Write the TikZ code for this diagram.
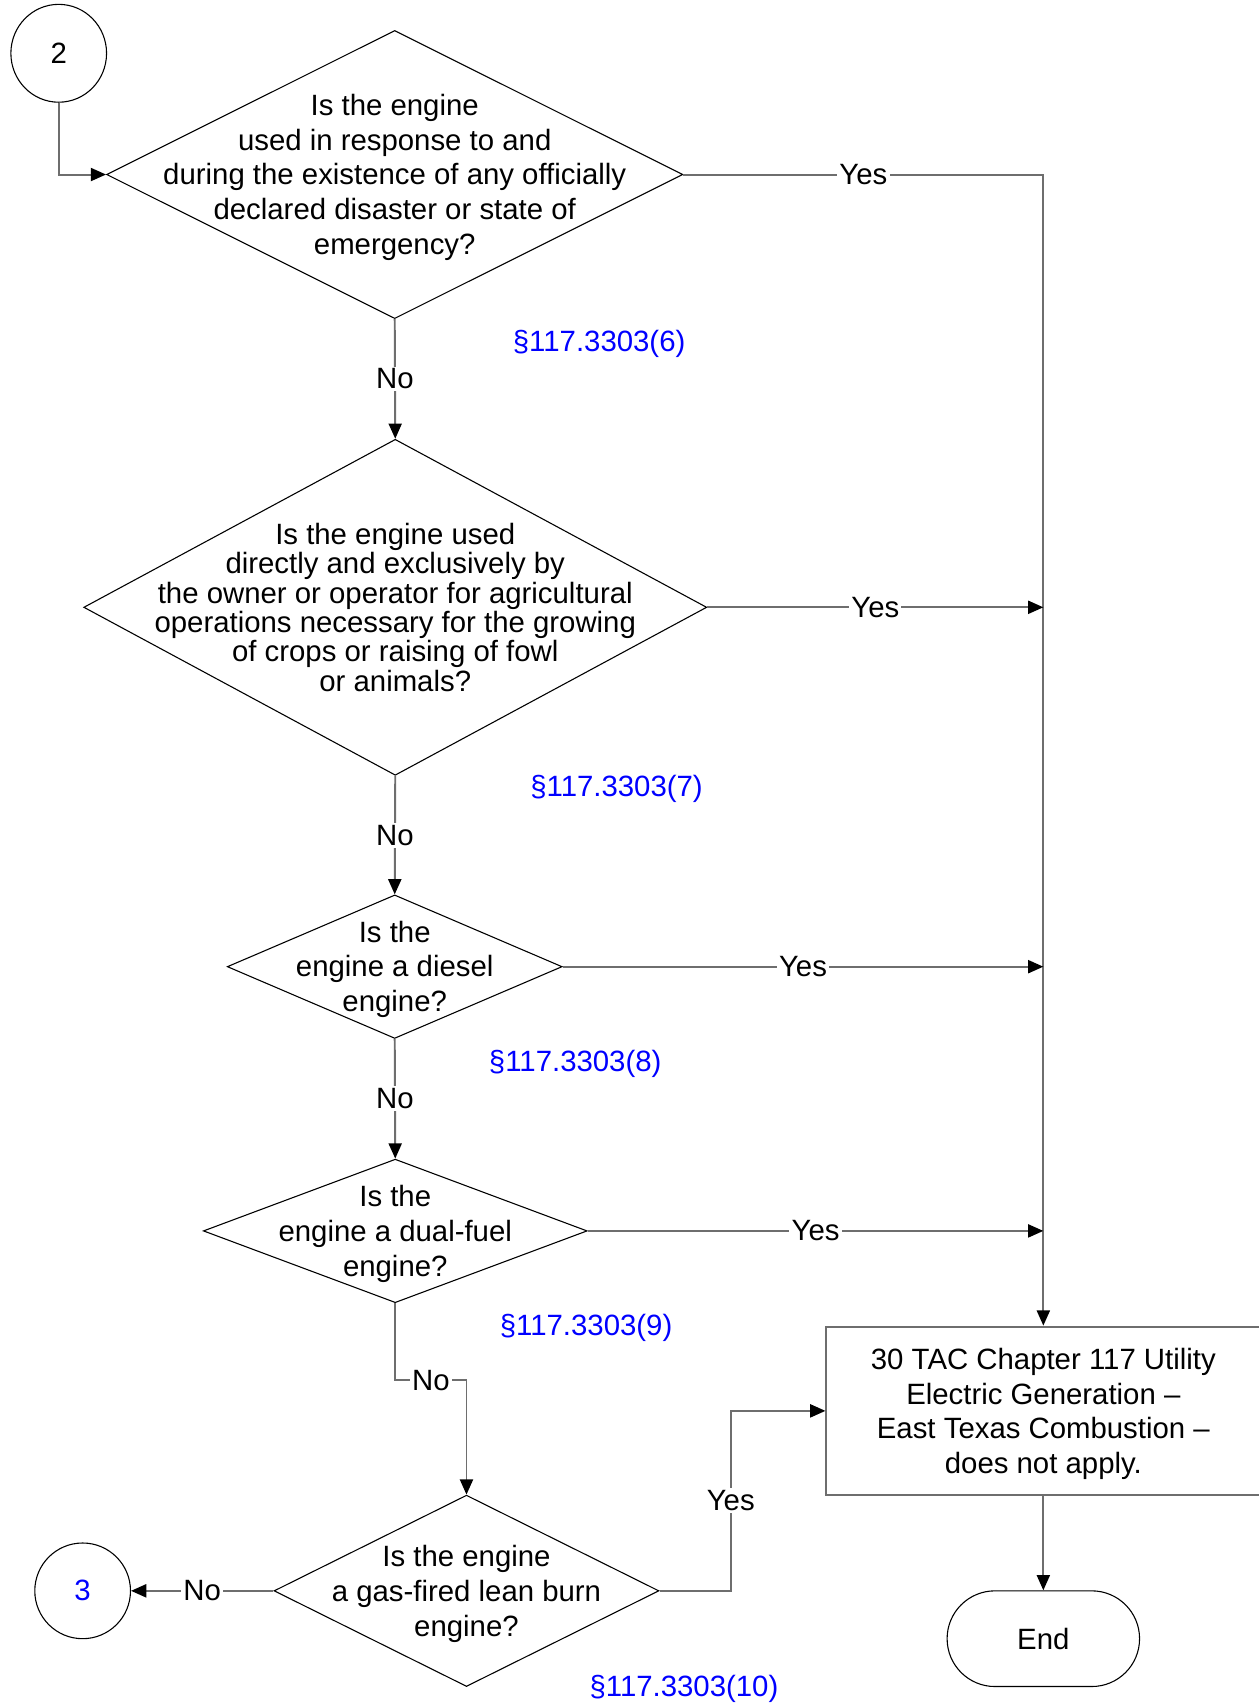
\documentclass[tikz,border=0pt]{standalone}
\usepackage{fontspec}
\setmainfont{Liberation Sans}
\usetikzlibrary{arrows.meta,shapes.geometric}
\definecolor{conngray}{RGB}{110,110,110}
\definecolor{refblue}{RGB}{0,0,255}
\begin{document}
\begin{tikzpicture}[x=0.5pt,y=-0.5pt,
  every node/.style={font=\fontsize{13.5pt}{16pt}\selectfont},
  dia/.style={draw=black, line width=0.5pt, diamond, inner sep=0pt},
  txt/.style={align=center, inner sep=0pt},
  conn/.style={draw=conngray, line width=0.9pt, -{Triangle[length=7pt,width=6pt,color=black]}},
  lbl/.style={fill=white, inner sep=1pt},
  sec/.style={text=refblue, inner sep=0pt},
  conncirc/.style={draw=black, line width=0.5pt, ellipse, inner sep=0pt},
  resbox/.style={draw=conngray, line width=0.9pt, rectangle, inner sep=0pt, minimum width=199.5pt, minimum height=77.5pt},
  term/.style={draw=black, line width=0.5pt, rectangle, rounded corners=22pt, inner sep=0pt, minimum width=88.5pt, minimum height=44pt}
]
\useasboundingbox (0,0) rectangle (1157,1568);

% connectors (circles)
\node[conncirc, minimum width=44pt, minimum height=45pt] (c2) at (54,49) {2};
\node[conncirc, minimum width=44pt, minimum height=44pt, text=refblue] (c3) at (76,1463) {3};

% decisions
\node[dia, minimum width=265pt, minimum height=132.5pt] (d1) at (363,160.5) {};
\node[txt] (t1) at (363,163) {Is the engine\\used in response to and\\during the existence of any officially\\declared disaster or state of\\emergency?};

\node[dia, minimum width=286.5pt, minimum height=154.5pt] (d2) at (363.5,558.5) {};
\node[txt, font=\fontsize{13.5pt}{13.5pt}\selectfont] (t2) at (363.5,558.5) {Is the engine used\\directly and exclusively by\\the owner or operator for agricultural\\operations necessary for the growing\\of crops or raising of fowl\\or animals?};

\node[dia, minimum width=154pt, minimum height=66pt] (d3) at (363,889) {};
\node[txt] (t3) at (363,891.5) {Is the\\engine a diesel\\engine?};

\node[dia, minimum width=176.5pt, minimum height=66pt] (d4) at (363.5,1132) {};
\node[txt] (t4) at (363.5,1134.5) {Is the\\engine a dual-fuel\\engine?};

\node[dia, minimum width=177pt, minimum height=88pt] (d5) at (429,1463) {};
\node[txt] (t5) at (429,1466) {Is the engine\\a gas-fired lean burn\\engine?};

% result and end
\node[resbox] (box) at (959.5,1297.5) {};
\node[txt] (tb) at (959.5,1300.3) {30 TAC Chapter 117 Utility\\Electric Generation --\\East Texas Combustion --\\does not apply.};
\node[term] (end) at (959.5,1507) {End};

% section references
\node[sec] (s6) at (551,316.5) {§117.3303(6)};
\node[sec] (s7) at (567,725.5) {§117.3303(7)};
\node[sec] (s8) at (529,978.5) {§117.3303(8)};
\node[sec] (s9) at (539,1221.5) {§117.3303(9)};
\node[sec] (s10) at (629,1553.5) {§117.3303(10)};

\coordinate (ybend) at (672,1297.5);

% connectors
\draw[conn] (c2.south) |- (d1.west);
\draw[conn] (d1.east) -- node[lbl]{Yes} (box.north |- d1.east) -- (box.north);
\draw[conn] (d2.east) -- node[lbl]{Yes} (box.north |- d2.east);
\draw[conn] (d3.east) -- node[lbl]{Yes} (box.north |- d3.east);
\draw[conn] (d4.east) -- node[lbl]{Yes} (box.north |- d4.east);

\draw[conn] (d1.south) -- node[lbl]{No} (d2.north);
\draw[conn] (d2.south) -- node[lbl]{No} (d3.north);
\draw[conn] (d3.south) -- node[lbl]{No} (d4.north);
\draw[conn] (d4.south) -- ++(0,71) -| node[lbl,pos=0.25]{No} (d5.north);
\draw[conn] (d5.west) -- node[lbl]{No} (c3.east);
\draw[conn] (d5.east) -| node[lbl,pos=0.75]{Yes} (ybend) -- (box.west);
\draw[conn] (box.south) -- (end.north);
\end{tikzpicture}
\end{document}
